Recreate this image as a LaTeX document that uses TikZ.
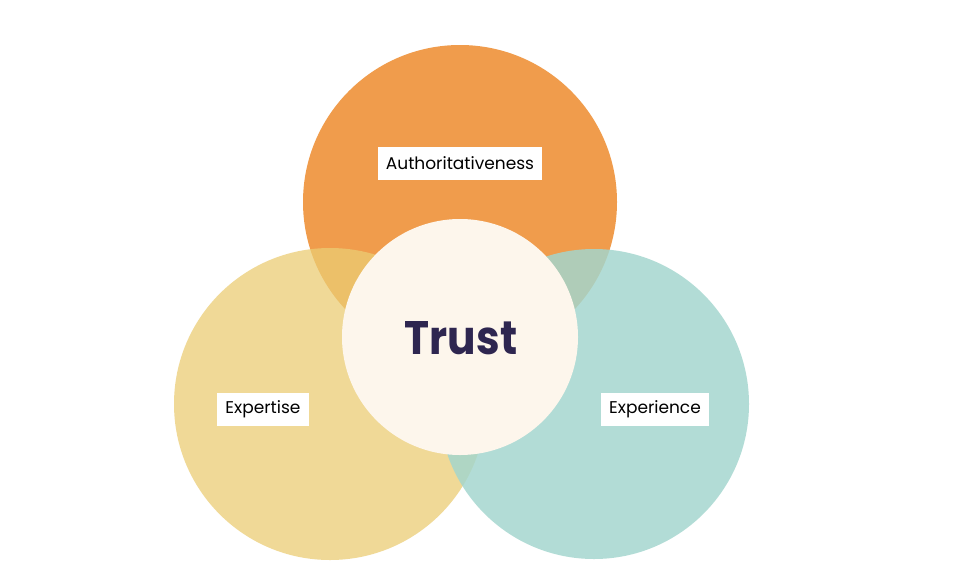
\documentclass[tikz,border=0pt]{standalone}
\usepackage{fontspec}
\setmainfont{Poppins}
\definecolor{orangec}{RGB}{240,156,76}
\definecolor{yellowc}{RGB}{235,205,116}
\definecolor{tealc}{RGB}{163,214,206}
\definecolor{creamc}{RGB}{253,246,236}
\definecolor{navyc}{RGB}{46,38,80}
\tikzset{
  lbl/.style={fill=white, text=black, inner xsep=8pt, minimum height=33pt, font=\fontsize{17}{20}\selectfont},
  circ/.style={circle, draw=none, inner sep=0pt}
}
\begin{document}
\begin{tikzpicture}[x=1pt,y=-1pt]
\useasboundingbox (0,0) rectangle (955,568);
\fill[white] (0,0) rectangle (955,568);
\node[circ, fill=orangec, minimum size=314pt] (auth) at (460,202) {};
\node[circ, fill=yellowc, fill opacity=0.74, minimum size=312pt] (expt) at (330,404) {};
\node[circ, fill=tealc, fill opacity=0.83, minimum size=310pt] (expr) at (594,404) {};
\node[circ, fill=creamc, minimum size=236pt] (trust) at (460,337) {};
\node[text=navyc, font=\fontsize{47}{56}\bfseries\selectfont, xscale=0.9, transform shape] (tl) at (461,338) {Trust};
\node[lbl] (la) at (460,163.5) {Authoritativeness};
\node[lbl] (le) at (263,409) {Expertise};
\node[lbl] (lx) at (655,409) {Experience};
\end{tikzpicture}
\end{document}
